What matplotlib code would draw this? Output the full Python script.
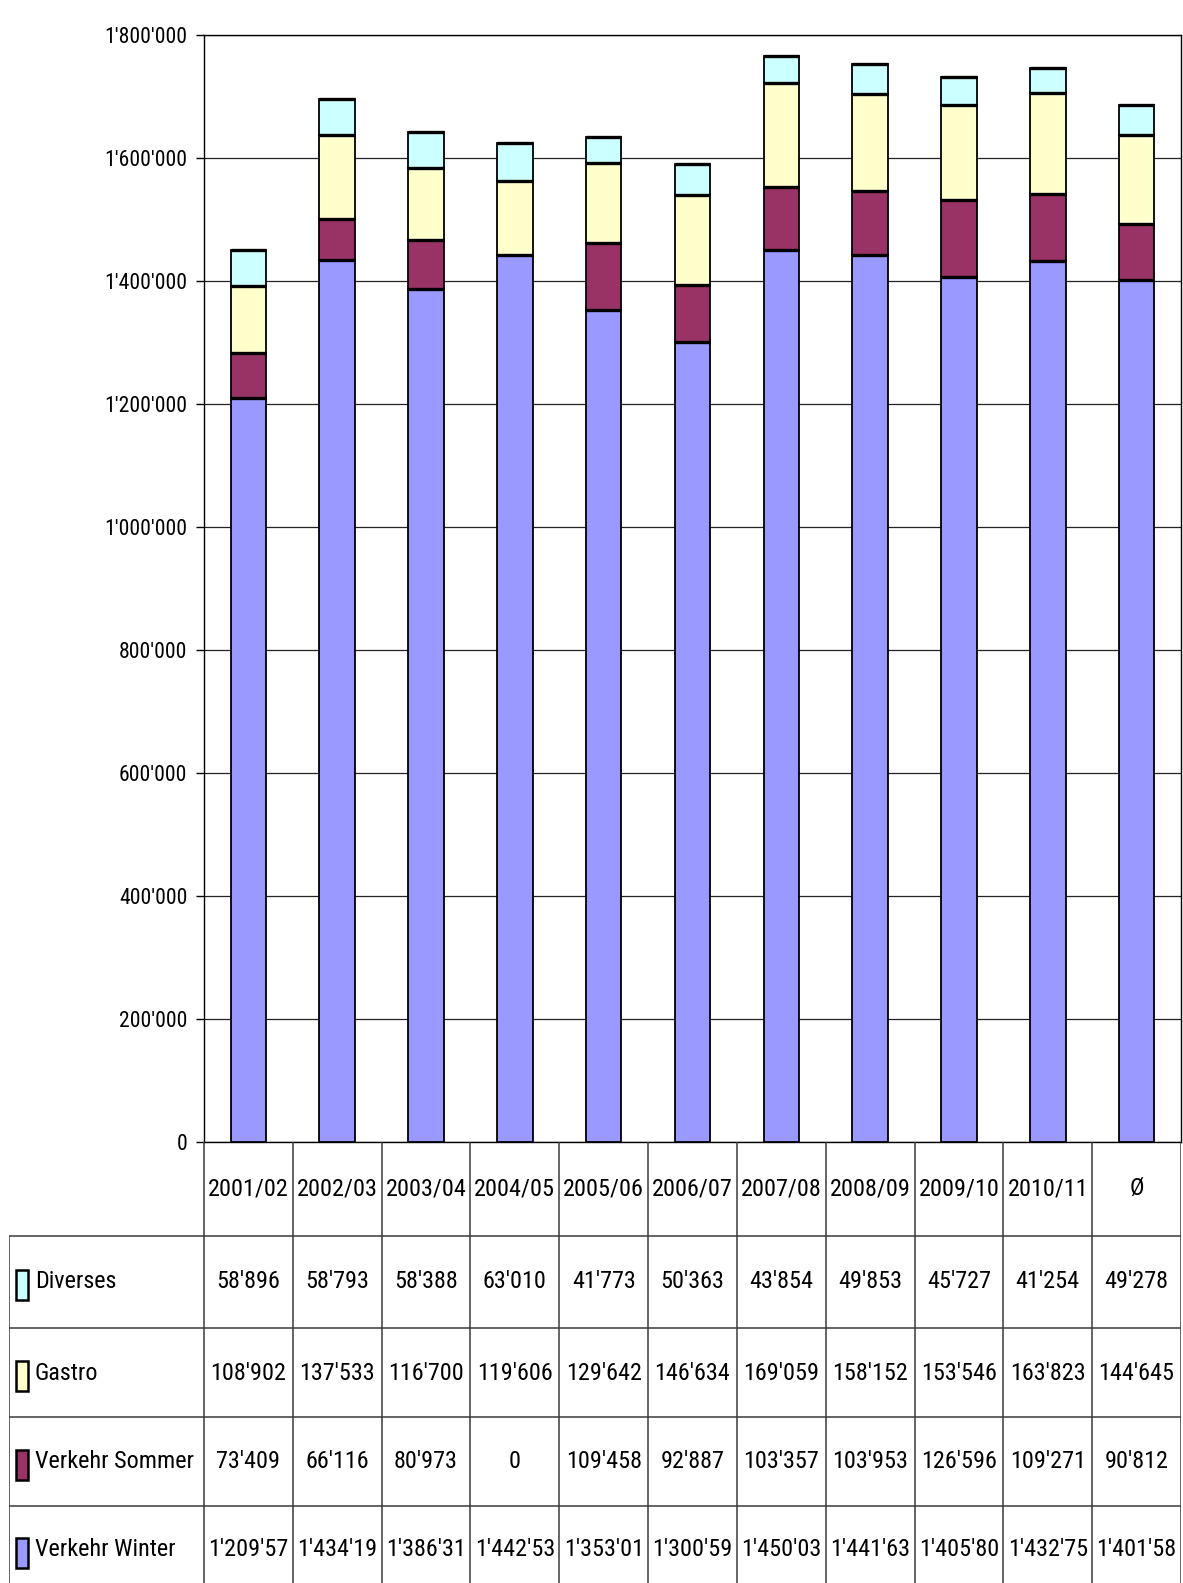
import matplotlib
matplotlib.use('Agg')
import matplotlib.pyplot as plt
from matplotlib import font_manager
from matplotlib.patches import Rectangle

# ---------------- data ----------------
categories = ['2001/02', '2002/03', '2003/04', '2004/05', '2005/06', '2006/07',
              '2007/08', '2008/09', '2009/10', '2010/11', 'Ø']
verkehr_winter = [1209575, 1434195, 1386315, 1442535, 1353015, 1300595,
                  1450035, 1441635, 1405805, 1432755, 1401585]
verkehr_sommer = [73409, 66116, 80973, 0, 109458, 92887,
                  103357, 103953, 126596, 109271, 90812]
gastro = [108902, 137533, 116700, 119606, 129642, 146634,
          169059, 158152, 153546, 163823, 144645]
diverses = [58896, 58793, 58388, 63010, 41773, 50363,
            43854, 49853, 45727, 41254, 49278]
series_names = ['Verkehr Winter', 'Verkehr Sommer', 'Gastro', 'Diverses']
series_colors = ['#9999FF', '#993366', '#FFFFCC', '#CCFFFF']
table_order = ['Diverses', 'Gastro', 'Verkehr Sommer', 'Verkehr Winter']
y_ticks = [0, 200000, 400000, 600000, 800000, 1000000, 1200000,
           1400000, 1600000, 1800000]

series_values = {'Verkehr Winter': verkehr_winter, 'Verkehr Sommer': verkehr_sommer,
                 'Gastro': gastro, 'Diverses': diverses}
color_of = dict(zip(series_names, series_colors))


def fmt(v):
    return f"{v:,}".replace(',', "'")


# ---------------- fonts ----------------
names = {f.name for f in font_manager.fontManager.ttflist}
stretch = 'normal'
if 'Liberation Sans Narrow' in names:
    fam, k = 'Liberation Sans Narrow', 1.05
elif 'Roboto Condensed' in names:
    fam, k = 'Roboto Condensed', 0.95
else:
    fam, k, stretch = 'DejaVu Sans', 0.82, 'condensed'
plt.rcParams['font.family'] = [fam, 'DejaVu Sans']
plt.rcParams['font.stretch'] = stretch
fs_tick = 16.5 * k
fs_tab = 18.3 * k

# ---------------- layout ----------------
W, H = 1183, 1583
fig = plt.figure(figsize=(W / 100, H / 100), dpi=100)
x_left_px, x_axis_px, x_right_px = 9, 204, 1181
y_top_px, y_zero_px = 35, 1142
ax = fig.add_axes([x_axis_px / W, (H - y_zero_px) / H,
                   (x_right_px - x_axis_px) / W, (y_zero_px - y_top_px) / H])

n = len(categories)
xs = list(range(n))
bw = 0.4
bottoms = [0] * n
for name in series_names:
    vals = series_values[name]
    ax.bar(xs, vals, bw, bottom=bottoms, color=color_of[name],
           edgecolor='black', linewidth=1.3, zorder=3)
    tops = [b + v for b, v in zip(bottoms, vals)]
    for xi, v, t in zip(xs, vals, tops):
        if v > 0:
            ax.hlines(t, xi - bw / 2, xi + bw / 2, colors='black', lw=2.4, zorder=4)
    bottoms = tops

ax.set_xlim(-0.5, n - 0.5)
ax.set_ylim(0, 1800000)
ax.set_yticks(y_ticks)
ax.set_yticklabels([fmt(v) for v in y_ticks])
ax.set_xticks([])
ax.yaxis.grid(True, color='#222222', lw=0.9, zorder=0)
ax.set_axisbelow(True)
ax.tick_params(axis='y', length=6, width=1, direction='out', pad=6,
               colors='black', labelsize=fs_tick)
for lbl in ax.get_yticklabels():
    lbl.set_fontsize(fs_tick)
for s in ax.spines.values():
    s.set_color('black')
    s.set_linewidth(1.0)

# ---------------- data table ----------------
colw = (x_right_px - x_axis_px) / n
lab_w = (x_axis_px - x_left_px) / colw
tx = fig.add_axes([x_left_px / W, 0, (x_right_px - x_left_px) / W, (H - y_zero_px) / H])
tx.set_xlim(-0.5 - lab_w, n - 0.5)
tx.set_ylim(H - y_zero_px, 0)
tx.axis('off')

row_bounds = [0, 94, 186, 275, 364]
row_centers = [47, 140, 231, 320, 408]
lc = '#3a3a3a'
for i in range(n + 1):
    tx.vlines(-0.5 + i, 0, H - y_zero_px, colors=lc, lw=1.1)
tx.vlines(-0.5 - lab_w + 0.002, row_bounds[1], H - y_zero_px, colors=lc, lw=1.1)
for yb in row_bounds[1:]:
    tx.hlines(yb, -0.5 - lab_w, n - 0.5, colors=lc, lw=1.1)

for xi, c in zip(xs, categories):
    tx.text(xi, row_centers[0], c, ha='center', va='center', fontsize=fs_tab)


def px2x(px):
    return -0.5 - lab_w + (px - x_left_px) / colw


for r, name in enumerate(table_order, start=1):
    yc = row_centers[r]
    tx.add_patch(Rectangle((px2x(16), yc - 12), 12 / colw, 30,
                           facecolor=color_of[name], edgecolor='black', lw=1.8))
    tx.text(px2x(35), yc, name, ha='left', va='center', fontsize=fs_tab)
    for xi, v in zip(xs, series_values[name]):
        s = fmt(v)
        if name == 'Verkehr Winter':
            s = s[:8]  # clipped in the cell as in the original
        tx.text(xi, yc, s, ha='center', va='center', fontsize=fs_tab)

fig.savefig('out.png', dpi=100)
